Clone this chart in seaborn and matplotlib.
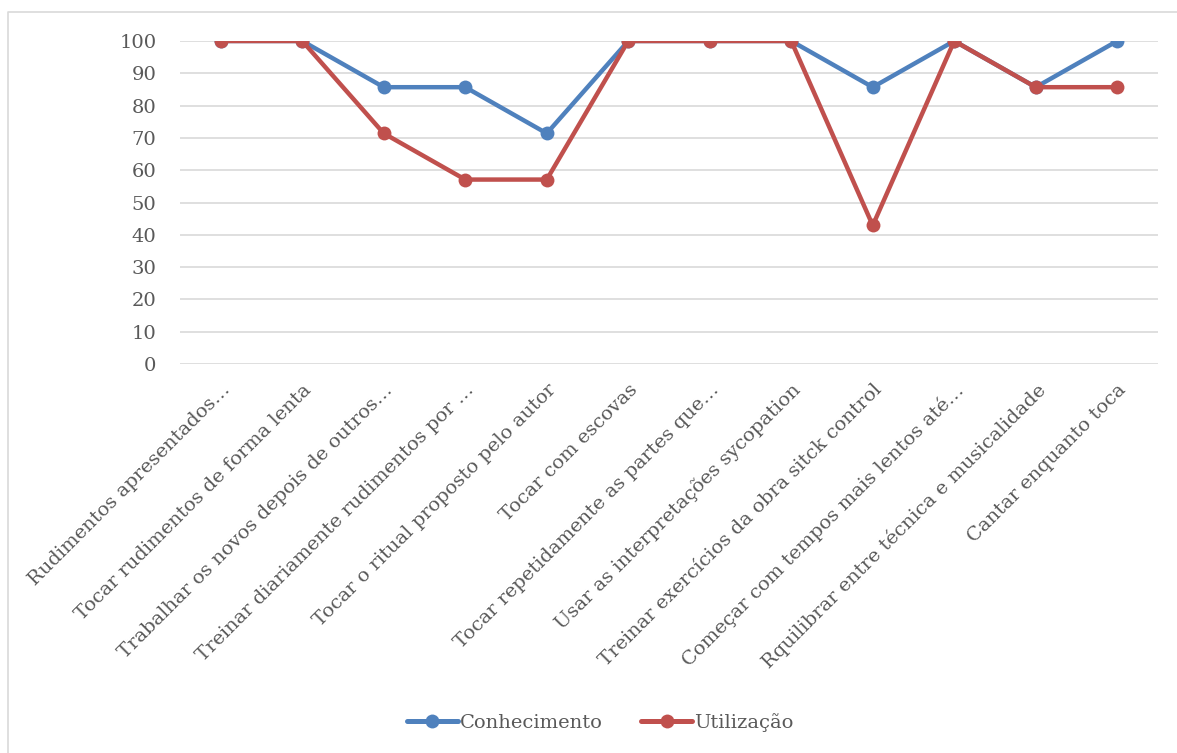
import matplotlib
matplotlib.use("Agg")
import matplotlib.pyplot as plt
import seaborn as sns
import pandas as pd
from matplotlib.lines import Line2D

# Data
categorias = [
    "Rudimentos apresentados…",
    "Tocar rudimentos de forma lenta",
    "Trabalhar os novos depois de outros…",
    "Treinar diariamente rudimentos por …",
    "Tocar o ritual proposto pelo autor",
    "Tocar com escovas",
    "Tocar repetidamente as partes que…",
    "Usar as interpretações sycopation",
    "Treinar exercícios da obra sitck control",
    "Começar com tempos mais lentos até…",
    "Rquilibrar entre técnica e musicalidade",
    "Cantar enquanto toca",
]
conhecimento = [100, 100, 85.7, 85.7, 71.4, 100, 100, 100, 85.7, 100, 85.7, 100]
utilizacao = [100, 100, 71.4, 57.1, 57.1, 100, 100, 100, 42.9, 100, 85.7, 85.7]
series = ["Conhecimento", "Utilização"]
cores = ["#4F81BD", "#C0504D"]

sns.set_theme(style="white")
plt.rcParams["font.family"] = ["DejaVu Serif"]
TXT = "#595959"

df = pd.DataFrame({
    "pos": list(range(len(categorias))) * 2,
    "valor": conhecimento + utilizacao,
    "serie": [series[0]] * len(categorias) + [series[1]] * len(categorias),
})

fig = plt.figure(figsize=(11.77, 7.53), dpi=100)
ax = fig.add_axes([180 / 1177, 1 - 364 / 753, (1158 - 180) / 1177, (364 - 41) / 753])

sns.lineplot(
    data=df, x="pos", y="valor", hue="serie", palette=cores,
    marker="o", markersize=10, markeredgewidth=0, linewidth=3.2,
    legend=False, ax=ax,
)

ax.set_xlim(-0.5, len(categorias) - 0.5)
ax.set_ylim(0, 100)
ax.set_yticks(range(0, 101, 10))
ax.yaxis.grid(True, color="#D9D9D9", linewidth=1.2)
ax.set_axisbelow(True)
for s in ax.spines.values():
    s.set_visible(False)
ax.set_xlabel("")
ax.set_ylabel("")
ax.set_xticks(range(len(categorias)))
ax.set_xticklabels(categorias, rotation=45, ha="right", va="top",
                   rotation_mode="anchor", fontsize=14, color=TXT)
ax.tick_params(axis="x", length=0, pad=12)
ax.tick_params(axis="y", length=0, pad=17, labelsize=14, labelcolor=TXT)

handles = [Line2D([0], [0], color=c, lw=3.6, marker="o", markersize=10, markeredgewidth=0)
           for c in cores]
fig.legend(handles, series, loc="center", bbox_to_anchor=(0.51, 0.041), ncol=2,
           frameon=False, fontsize=14, labelcolor=TXT, handlelength=2.6,
           handletextpad=0.1, columnspacing=2.0)

# chart area border (top and left visible in the reference)
fig.add_artist(Line2D([8 / 1177, 8 / 1177, 1.0], [0.0, 1 - 12 / 753, 1 - 12 / 753],
                      transform=fig.transFigure, color="#D9D9D9", lw=1.2))

fig.savefig("out.png", dpi=100, facecolor="white")
